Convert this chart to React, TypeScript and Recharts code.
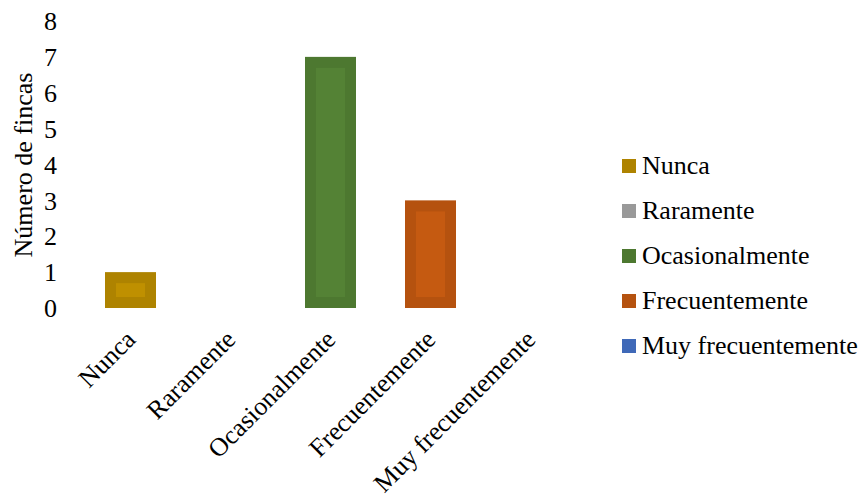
import React from 'react';
import { BarChart, Bar, XAxis, YAxis } from 'recharts';

const categories = ['Nunca', 'Raramente', 'Ocasionalmente', 'Frecuentemente', 'Muy frecuentemente'];
const values = [1, 0, 7, 3, 0];
const yTicks = [0, 1, 2, 3, 4, 5, 6, 7, 8];
const outerColors = ['#AE8300', '#999999', '#4D7830', '#B5520F', '#3F69B8'];
const innerColors = ['#BF9000', '#A5A5A5', '#548235', '#C55A11', '#4472C4'];

const data = categories.map((c, i) => ({ name: c, value: values[i] }));

const FONT = '"Liberation Serif", "Times New Roman", serif';
const FS = 26;

const BarShape = (props: any) => {
  const { x, y, width, height, index } = props;
  if (!height || height <= 0) return null;
  const b = 11;
  const iw = width - 2 * b;
  const ih = height - 2 * b;
  return (
    <g>
      <rect x={x} y={y} width={width} height={height} fill={outerColors[index]} />
      {iw > 0 && ih > 0 && (
        <rect x={x + b} y={y + b} width={iw} height={ih} fill={innerColors[index]} />
      )}
    </g>
  );
};

const XTick = (props: any) => {
  const { x, y, payload } = props;
  const ax = x + 7;
  const ay = y + 25;
  return (
    <text
      x={ax}
      y={ay}
      textAnchor="end"
      transform={`rotate(-45, ${ax}, ${ay})`}
      fontFamily={FONT}
      fontSize={FS}
      fill="#000"
    >
      {payload.value}
    </text>
  );
};

export default function App() {
  return (
    <div style={{ position: 'absolute', left: 0, top: 0, width: 866, height: 494, background: '#fff' }}>
      <BarChart
        width={866}
        height={494}
        data={data}
        margin={{ top: 21, right: 286, bottom: 0, left: 0 }}
      >
        <XAxis
          dataKey="name"
          axisLine={false}
          tickLine={false}
          tick={<XTick />}
          interval={0}
          height={186}
        />
        <YAxis
          domain={[0, 8]}
          ticks={yTicks}
          axisLine={false}
          tickLine={false}
          tickSize={0}
          tickMargin={23}
          width={80}
          tick={{ fontFamily: FONT, fontSize: FS, fill: '#000' }}
          label={{
            content: () => (
              <text
                x={32}
                y={165}
                textAnchor="middle"
                transform="rotate(-90, 32, 165)"
                fontFamily={FONT}
                fontSize={FS}
                fill="#000"
              >
                Número de fincas
              </text>
            ),
          }}
        />
        <Bar dataKey="value" barSize={51} shape={<BarShape />} isAnimationActive={false} />
      </BarChart>
      <div style={{ position: 'absolute', left: 622, top: 143, fontFamily: FONT, fontSize: FS, color: '#000', lineHeight: 1 }}>
        {categories.map((c, i) => (
          <div key={c} style={{ display: 'flex', alignItems: 'center', height: 45, whiteSpace: 'nowrap' }}>
            <span style={{ display: 'inline-block', width: 14, height: 14, background: outerColors[i], marginRight: 6 }} />
            <span>{c}</span>
          </div>
        ))}
      </div>
    </div>
  );
}
